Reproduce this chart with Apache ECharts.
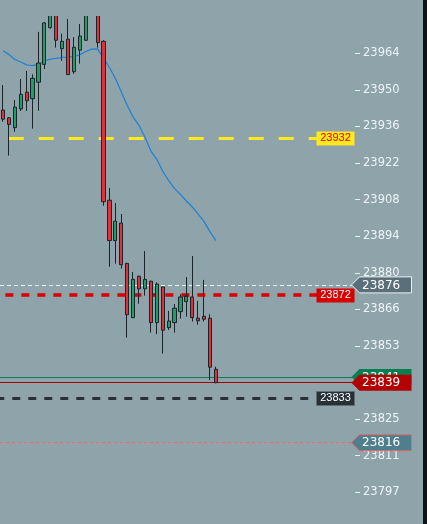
<!DOCTYPE html>
<html>
<head>
<meta charset="utf-8">
<script src="https://cdn.jsdelivr.net/npm/echarts@6/dist/echarts.min.js"></script>
<style>
html,body{margin:0;padding:0;background:#8fa3ab;}
#c{width:427px;height:524px;}
</style>
</head>
<body>
<div id="c"></div>
<script>
// ---- data ----
const slots = Array.from({length: 60}, (_, i) => String(i + 1));

const opens  = [23942.5,23939.5,23935.8,23942.9,23949.3,23946.8,23953.1,23959.9,23973.9,23983.0,
                23965.9,23969.5,23957.1,23965.3,23969.1,23982.0,23985.0,23968.7,23908.1,23892.7,
                23899.4,23884.0,23863.3,23879.1,23874.3,23877.2,23861.4,23875.0,23859.5,23861.4,
                23865.6,23869.4,23871.2,23863.1,23863.8,23863.1,23843.6];
const closes = [23939.0,23937.0,23943.6,23948.5,23946.0,23954.6,23960.4,23975.7,23982.0,23969.1,
                23968.7,23956.0,23966.4,23970.7,23982.0,23987.0,23968.2,23907.5,23892.7,23900.1,
                23883.5,23864.4,23877.9,23874.3,23877.9,23861.4,23876.1,23858.5,23862.0,23866.9,
                23871.2,23871.4,23863.3,23862.1,23862.7,23844.4,23838.5];
const lows   = [23938.0,23925.1,23934.2,23942.1,23942.1,23935.4,23942.2,23958.1,23973.5,23966.3,
                23961.3,23955.8,23956.3,23960.2,23968.8,23979.5,23966.3,23906.0,23882.7,23883.9,
                23882.0,23855.7,23863.1,23868.6,23871.7,23857.6,23857.0,23849.6,23858.6,23857.6,
                23862.9,23863.7,23861.8,23860.6,23861.8,23839.5,23838.3];
const highs  = [23952.0,23939.8,23946.3,23954.3,23957.4,23956.1,23972.3,23976.1,23985.0,23986.0,
                23971.6,23977.2,23970.3,23975.3,23985.0,23990.0,23988.0,23969.1,23912.8,23907.0,
                23902.8,23884.2,23880.7,23879.3,23888.7,23877.4,23876.8,23875.2,23865.9,23868.5,
                23872.2,23878.8,23886.8,23869.7,23877.7,23864.6,23844.6];

const maValues = [23965.1,23963.7,23961.8,23960.8,23959.7,23959.4,23960.0,23961.2,23961.9,23962.2,
                  23962.6,23962.7,23962.9,23963.6,23964.8,23965.7,23965.8,23962.2,23958.7,23954.5,
                  23949.5,23944.2,23939.8,23936.6,23932.2,23926.9,23923.6,23919.2,23915.6,23912.6,
                  23910.3,23907.8,23905.5,23902.8,23899.9,23896.0,23892.7];

const yTickLabels    = [23797, 23811, 23825, 23839, 23853, 23866, 23880, 23894, 23908, 23922, 23936, 23950, 23964];
const yTickPositions = [23796.72,23810.67,23824.62,23838.57,23852.52,23866.47,23880.42,23894.37,23908.32,23922.27,23936.22,23950.17,23964.12];

const targetLevel = 23931.9;   // yellow dashed
const stopLevel   = 23871.95;  // red dashed
const lastLevel   = 23875.8;   // white dotted
const bidLevel    = 23840.7;   // green line
const askLevel    = 23838.5;   // red line
const entryLevel  = 23832.6;   // dark dashed
const lowLevel    = 23815.6;   // pink dotted

const Y_MIN = 23784.6;
const Y_MAX = 23978.35;

// ---- chart ----
const BG = '#8fa3ab';
const chart = echarts.init(document.getElementById('c'), null, {renderer: 'canvas'});
const candleData = opens.map((o, i) => [o, closes[i], lows[i], highs[i]]);

function labelFor(v) {
  let best = 0, bd = Infinity;
  yTickPositions.forEach((p, i) => { const d = Math.abs(p - v); if (d < bd) { bd = d; best = i; } });
  return String(yTickLabels[best]);
}

const option = {
  backgroundColor: BG,
  animation: false,
  grid: {left: -0.6, right: 72, top: 16, bottom: 0},
  xAxis: {type: 'category', data: slots, boundaryGap: true, show: false},
  yAxis: {
    type: 'value', position: 'right', min: Y_MIN, max: Y_MAX, scale: true,
    axisLine: {show: false}, splitLine: {show: false},
    axisTick: {show: true, length: 5, lineStyle: {color: '#eaf0f3', width: 1}, customValues: yTickPositions},
    axisLabel: {show: true, margin: 8, color: '#eef3f5', fontFamily: 'DejaVu Sans', fontSize: 11.5,
                customValues: yTickPositions, formatter: v => labelFor(v)}
  },
  series: [
    {
      type: 'line', data: maValues, showSymbol: false, symbol: 'none', silent: true, z: 2,
      lineStyle: {color: '#2383d0', width: 1.3},
      markLine: {
        silent: true, symbol: ['none', 'none'], label: {show: false}, animation: false,
        data: [
          {yAxis: targetLevel, lineStyle: {color: '#ffe81c', width: 3, type: [15, 15], dashOffset: 21.3}},
          {yAxis: stopLevel,   lineStyle: {color: '#d80000', width: 3.5, type: [8, 8], dashOffset: 10.6}},
          {yAxis: lastLevel,   lineStyle: {color: '#eef2f4', width: 1, type: [4, 3]}},
          {yAxis: bidLevel,    lineStyle: {color: '#137a58', width: 1, type: 'solid'}},
          {yAxis: askLevel,    lineStyle: {color: '#9e0000', width: 1, type: 'solid'}},
          {yAxis: entryLevel,  lineStyle: {color: '#263035', width: 3, type: [8, 8], dashOffset: 3.7}},
          {yAxis: lowLevel,    lineStyle: {color: '#e46c6c', width: 1, type: [3, 3]}}
        ]
      }
    },
    {
      type: 'candlestick', data: candleData, barWidth: 3.6, z: 5, clip: true,
      itemStyle: {color: '#1ba06a', color0: '#e0313a', borderColor: '#1b2428', borderColor0: '#1b2428', borderWidth: 1}
    }
  ]
};
chart.setOption(option);

// ---- overflow mask above the plot area (candles are cut at the pane top) ----
const yPx = v => chart.convertToPixel({yAxisIndex: 0}, v);
const g = [];
let zTag = 100;
const paneTop = yPx(Y_MAX);
g.push({type: 'rect', z: zTag++, shape: {x: 0, y: 0, width: 356, height: paneTop}, style: {fill: BG}});

// ---- price tags placed through the y scale ----
const boxTags = [
  {value: targetLevel, fill: '#ffe81c', color: '#e3001b', stroke: null},
  {value: stopLevel,   fill: '#d60000', color: '#ffffff', stroke: null},
  {value: entryLevel,  fill: '#263035', color: '#ffffff', stroke: '#5f6d74'}
];
boxTags.forEach(t => {
  const y = yPx(t.value);
  g.push({type: 'rect', z: zTag++, shape: {x: 316.5, y: Math.round(y - 7) + 0.5, width: 38, height: 14},
          style: {fill: t.fill, stroke: t.stroke, lineWidth: 1}});
  g.push({type: 'text', z: zTag++, x: 335.5, y: y,
          style: {text: String(Math.round(t.value)), fill: t.color, font: '11px "Liberation Sans"',
                  align: 'center', verticalAlign: 'middle', textAlign: 'center', textVerticalAlign: 'middle'}});
});
const arrowTags = [
  {value: lastLevel, fill: '#5a6f7a', stroke: '#eef2f4'},
  {value: lowLevel,  fill: '#4f7e8c', stroke: '#e06a6a'},
  {value: bidLevel,  fill: '#0b7d53', stroke: null},
  {value: askLevel,  fill: '#b30000', stroke: null}
];
arrowTags.forEach(t => {
  const y = yPx(t.value);
  g.push({type: 'polygon', z: zTag++,
          shape: {points: [[351.5, y], [359.5, y - 8], [411.5, y - 8], [411.5, y + 8], [359.5, y + 8]]},
          style: {fill: t.fill, stroke: t.stroke, lineWidth: 1}});
  g.push({type: 'text', z: zTag++, x: 362, y: y + 0.5,
          style: {text: String(Math.round(t.value)), fill: '#ffffff', font: '12px "DejaVu Sans"',
                  align: 'left', verticalAlign: 'middle', textAlign: 'left', textVerticalAlign: 'middle'}});
});
g.push({type: 'rect', z: zTag++, shape: {x: 423, y: 0, width: 4, height: 524}, style: {fill: '#0e1316'}});
chart.setOption({graphic: g});
</script>
</body>
</html>
